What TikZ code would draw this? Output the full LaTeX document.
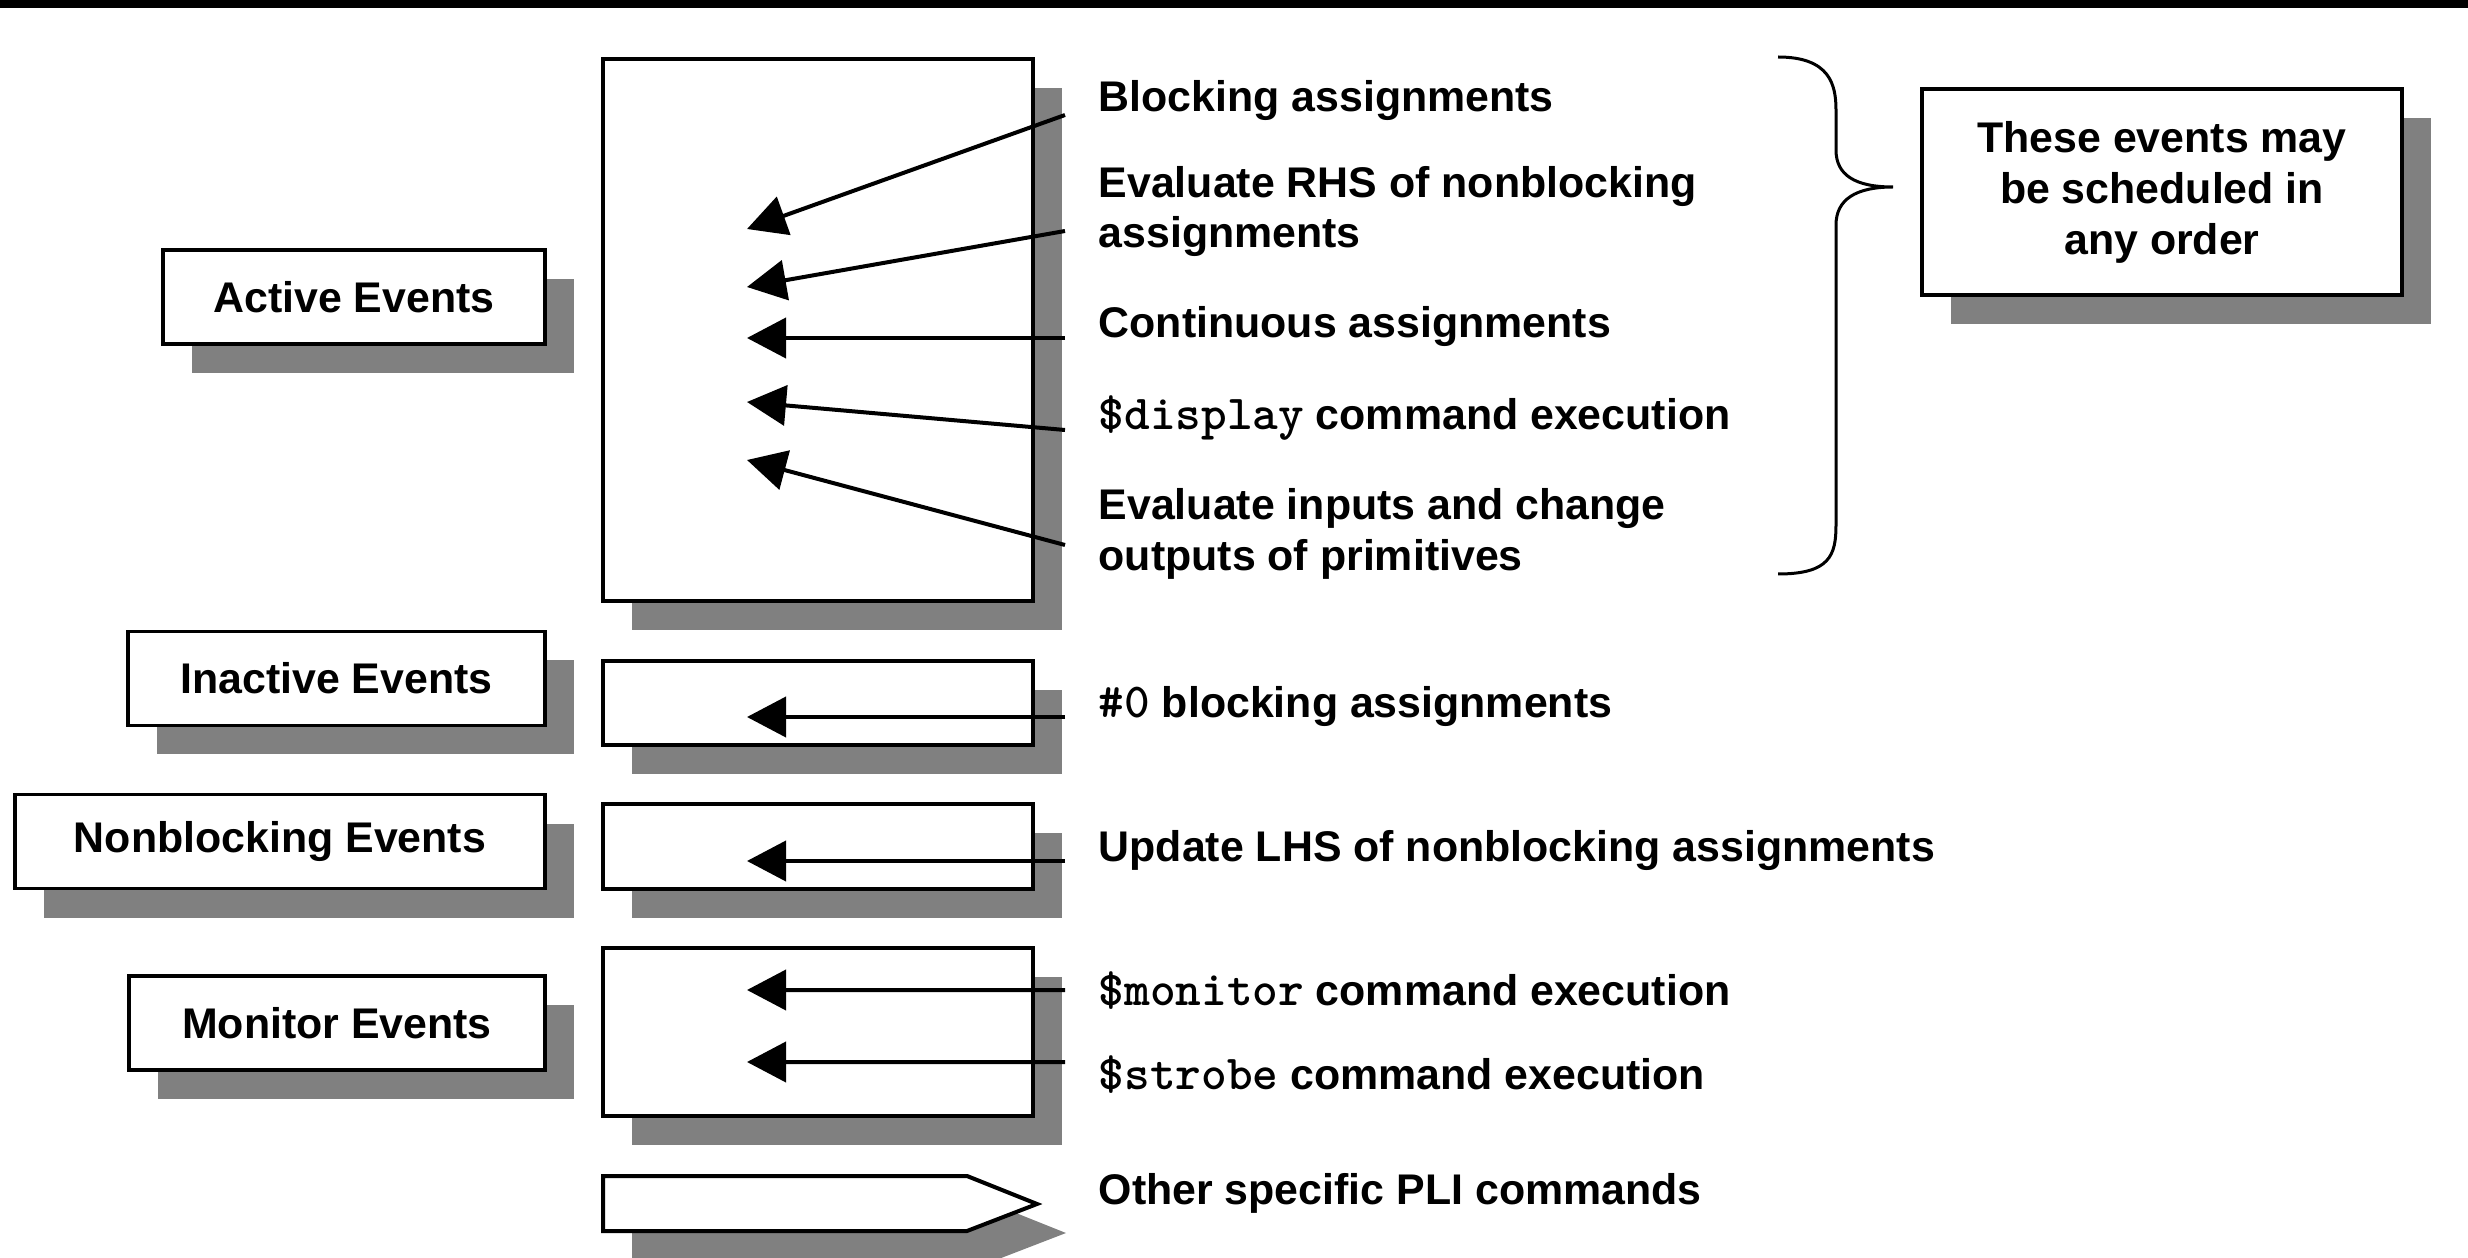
\documentclass[tikz,border=0pt]{standalone}
\usepackage{fontspec}
\setmainfont{Liberation Sans}
\setmonofont{Latin Modern Mono Light}[Scale=1.14]
\usetikzlibrary{arrows.meta,shadows}

\begin{document}
\begin{tikzpicture}[
    x=0.1mm,y=-0.1mm,
    font=\bfseries\fontsize{12.2}{14.5}\selectfont,
    shadowed/.style={drop shadow={shadow xshift=2.9mm,shadow yshift=-2.9mm,
        opacity=1,fill=gray}},
    queue/.style={rectangle,draw=black,fill=white,line width=0.4mm,shadowed,
        minimum width=43mm,inner sep=0pt},
    evlabel/.style={rectangle,draw=black,fill=white,line width=0.33mm,shadowed,
        minimum height=9.4mm,inner sep=0pt,align=center},
    item/.style={anchor=base west,inner sep=0pt,align=left},
    arrow/.style={draw=black,line width=0.4mm,-{Triangle[length=3.9mm,width=4mm]}}
]
\useasboundingbox (0,0) rectangle (2468,1258);
\fill[black] (0,0) rectangle (2468,8);

\node[queue,minimum height=54.2mm] (activeq) at (818,330) {};
\node[queue,minimum height=8.4mm] (inactiveq) at (818,703) {};
\node[queue,minimum height=8.5mm] (nbq) at (818,846.5) {};
\node[queue,minimum height=16.8mm] (monq) at (818,1032) {};
\draw[line width=0.4mm,fill=white,shadowed] (603,1176) -- (967,1176) -- (1037,1204)
    -- (967,1231) -- (603,1231) -- cycle;

\node[evlabel,minimum width=38.2mm] (active) at (354,297) {Active Events};
\node[evlabel,minimum width=41.7mm] (inactive) at (336.5,678.5) {Inactive Events};
\node[evlabel,minimum width=53mm] (nonblocking) at (280,841.5) {Nonblocking Events};
\node[evlabel,minimum width=41.6mm] (monitor) at (337,1023) {Monitor Events};
\node[evlabel,minimum width=48mm,minimum height=20.6mm] (anyorder) at (2162,192)
    {These events may\\be scheduled in\\any order};

\node[item] (blocking) at (1098,112) {Blocking assignments};
\node[item] (rhs) at (1098,248) {Evaluate RHS of nonblocking\\assignments};
\node[item] (continuous) at (1098,338) {Continuous assignments};
\node[item] (display) at (1098,430) {\texttt{\$display} command execution};
\node[item] (prims) at (1098,570) {Evaluate inputs and change\\outputs of primitives};
\node[item] (zerodelay) at (1098,717) {\texttt{\#0} blocking assignments};
\node[item] (update) at (1098,861) {Update LHS of nonblocking assignments};
\node[item] (mon) at (1098,1005) {\texttt{\$monitor} command execution};
\node[item] (strobe) at (1098,1089) {\texttt{\$strobe} command execution};
\node[item] (pli) at (1098,1204) {Other specific PLI commands};

\coordinate (a1) at (747,229);
\coordinate (a2) at (747,287);
\coordinate (a3) at (747,338);
\coordinate (a4) at (747,402);
\coordinate (a5) at (747,460);
\coordinate (b1) at (747,717);
\coordinate (c1) at (747,861);
\coordinate (d1) at (747,990);
\coordinate (d2) at (747,1062);

\draw[arrow] ([xshift=-3.3mm,yshift=-0.3mm]blocking.base west) -- (a1);
\draw[arrow] ([xshift=-3.3mm,yshift=1.7mm]rhs.base west) -- (a2);
\draw[arrow] ([xshift=-3.3mm]continuous.base west) -- (a3);
\draw[arrow] ([xshift=-3.3mm]display.base west) -- (a4);
\draw[arrow] ([xshift=-3.3mm,yshift=2.5mm]prims.base west) -- (a5);
\draw[arrow] ([xshift=-3.3mm]zerodelay.base west) -- (b1);
\draw[arrow] ([xshift=-3.3mm]update.base west) -- (c1);
\draw[arrow] ([xshift=-3.3mm,yshift=1.5mm]mon.base west) -- (d1);
\draw[arrow] ([xshift=-3.3mm,yshift=2.7mm]strobe.base west) -- (d2);

\draw[line width=0.3mm] (1778,57) .. controls (1830,57) and (1836,85) .. (1836,110)
    -- (1836,150) .. controls (1836,175) and (1855,187) .. (1893,187)
    .. controls (1855,187) and (1836,200) .. (1836,225) -- (1836,525)
    .. controls (1836,555) and (1830,574) .. (1778,574);
\end{tikzpicture}
\end{document}
